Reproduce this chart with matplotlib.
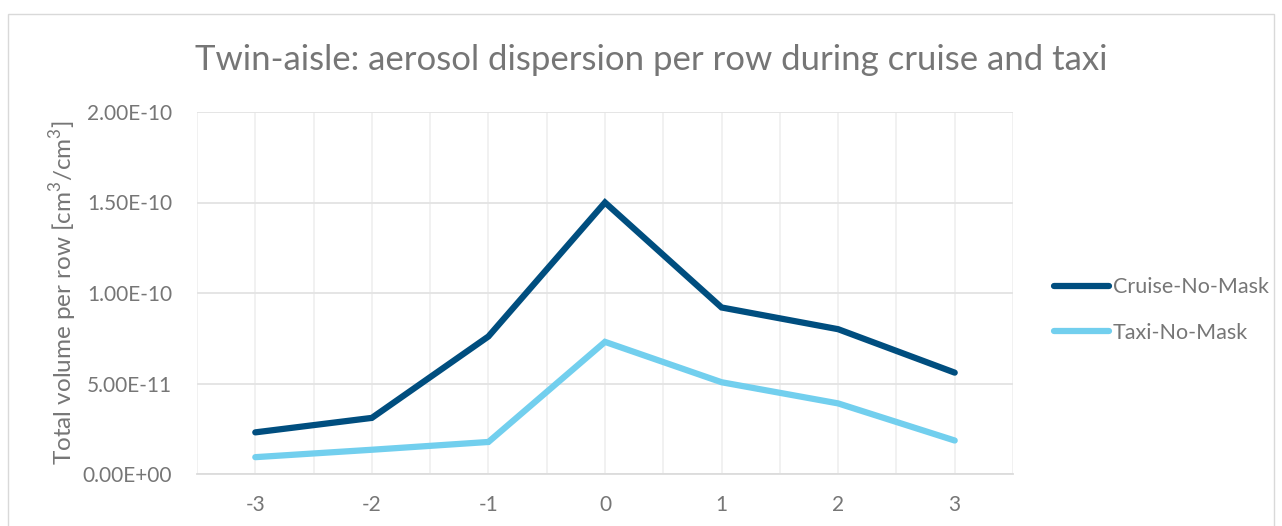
import matplotlib
matplotlib.use("Agg")
import matplotlib.pyplot as plt
from matplotlib.patches import Rectangle
from matplotlib.ticker import FuncFormatter, MultipleLocator, NullFormatter

rows = [-3, -2, -1, 0, 1, 2, 3]
cruise = [2.3e-11, 3.1e-11, 7.6e-11, 1.50e-10, 9.2e-11, 8.0e-11, 5.6e-11]
taxi = [9.3e-12, 1.34e-11, 1.77e-11, 7.3e-11, 5.07e-11, 3.9e-11, 1.85e-11]
series_names = ["Cruise-No-Mask", "Taxi-No-Mask"]
title = "Twin-aisle: aerosol dispersion per row during cruise and taxi"
ylabel = "Total volume per row [cm$^3$/cm$^3$]"

FONT = "Lato"
GRAY = "#767676"
plt.rcParams['font.family'] = [FONT, 'DejaVu Sans']
plt.rcParams['mathtext.fontset'] = 'custom'
plt.rcParams['mathtext.rm'] = FONT

W, H = 1282, 526
fig = plt.figure(figsize=(W / 100, H / 100), dpi=100)
fig.patches.append(Rectangle((8 / W, -0.1), (1274 - 8) / W, 1 - 14 / H + 0.1,
                             transform=fig.transFigure, fill=False,
                             edgecolor="#d9d9d9", linewidth=1.0))

ax = fig.add_axes([197 / W, 1 - 474 / H, (1013 - 197) / W, (474 - 112) / H])
x = list(range(len(rows)))
ax.plot(x, cruise, color="#004E7F", linewidth=4.5, solid_capstyle="round",
        solid_joinstyle="miter", label=series_names[0])
ax.plot(x, taxi, color="#72CFEE", linewidth=4.5, solid_capstyle="round",
        solid_joinstyle="miter", label=series_names[1])

ax.set_xlim(-0.5, len(rows) - 0.5)
ax.set_ylim(0, 2e-10)
ax.set_xticks(x)
ax.set_xticklabels([str(r) for r in rows])
ax.xaxis.set_minor_locator(MultipleLocator(0.5))
ax.xaxis.set_minor_formatter(NullFormatter())
ax.yaxis.set_major_locator(MultipleLocator(5e-11))


def fmt(v, pos):
    if v == 0:
        return "0.00E+00"
    s = f"{v:.2E}"
    mant, exp = s.split("E")
    return f"{mant}E{int(exp)}"


ax.yaxis.set_major_formatter(FuncFormatter(fmt))
ax.grid(True, which="major", axis="y", color="#e3e3e3", linewidth=1.3)
ax.grid(True, which="both", axis="x", color="#f0f0f0", linewidth=1.3)
ax.set_axisbelow(True)
for sp in ["top", "right", "left"]:
    ax.spines[sp].set_visible(False)
ax.spines["bottom"].set_color("#dcdcdc")
ax.spines["bottom"].set_linewidth(1.3)
ax.tick_params(axis="both", which="both", length=0, colors=GRAY, labelsize=15)
ax.tick_params(axis="x", pad=15)
ax.tick_params(axis="y", pad=18)

ax.set_ylabel(ylabel, color=GRAY, fontsize=17.5, labelpad=2.5)
fig.text(651 / W, 1 - 60 / H, title, ha="center", va="center",
         color=GRAY, fontsize=25)

leg = ax.legend(loc="center left", bbox_to_anchor=(1035 / W, 1 - 310 / H),
                bbox_transform=fig.transFigure, frameon=False,
                fontsize=15.5, handlelength=2.55, handletextpad=0.15,
                labelspacing=1.2, labelcolor=GRAY)

fig.savefig("out.png", dpi=100, facecolor="white")
